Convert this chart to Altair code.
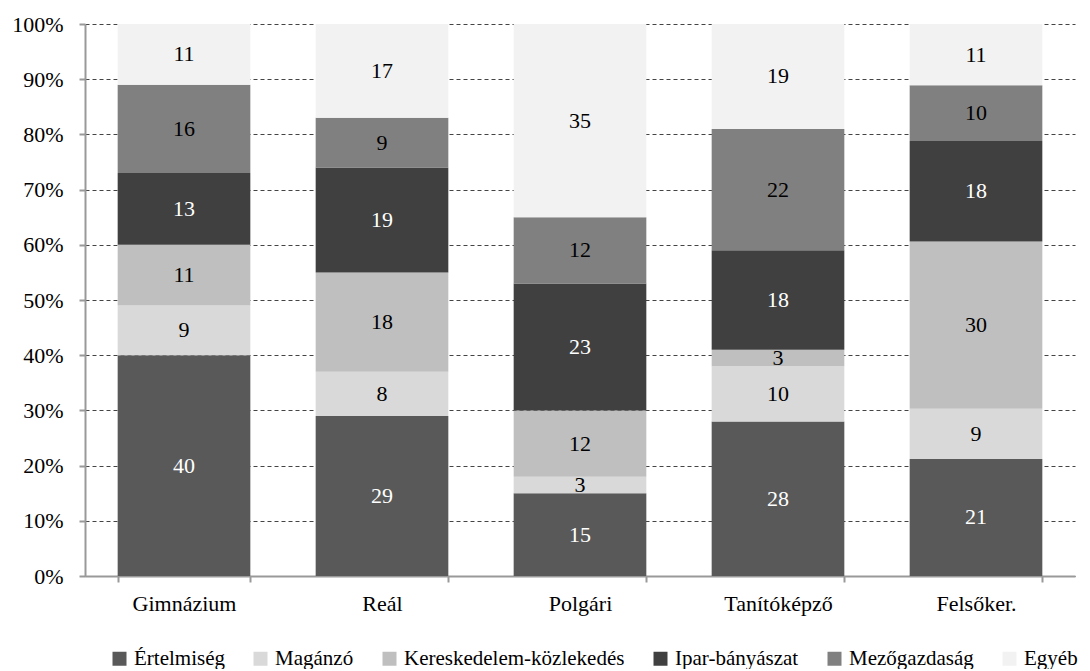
import altair as alt
import pandas as pd

categories = ["Gimnázium", "Reál", "Polgári", "Tanítóképző", "Felsőker."]
series = ["Értelmiség", "Magánzó", "Kereskedelem-közlekedés", "Ipar-bányászat", "Mezőgazdaság", "Egyéb"]
colors = ["#595959", "#d9d9d9", "#bfbfbf", "#404040", "#808080", "#f2f2f2"]

ertelmiseg = [40, 29, 15, 28, 21]
maganzo = [9, 8, 3, 10, 9]
kereskedelem = [11, 18, 12, 3, 30]
ipar = [13, 19, 23, 18, 18]
mezogazdasag = [16, 9, 12, 22, 10]
egyeb = [11, 17, 35, 19, 11]

series_values = [ertelmiseg, maganzo, kereskedelem, ipar, mezogazdasag, egyeb]

rows = []
for si, (s, vals) in enumerate(zip(series, series_values)):
    for c, v in zip(categories, vals):
        rows.append({"cat": c, "series": s, "value": v, "order": si})
df = pd.DataFrame(rows)

FONT = "Liberation Serif"

base = alt.Chart(df).transform_stack(
    stack="value",
    groupby=["cat"],
    sort=[alt.SortField("order", order="ascending")],
    as_=["y0", "y1"],
    offset="normalize",
).transform_calculate(mid="(datum.y0 + datum.y1) / 2")

xenc = alt.X(
    "cat:N",
    sort=categories,
    title=None,
    scale=alt.Scale(paddingInner=0.33, paddingOuter=0.165),
    axis=alt.Axis(
        labelAngle=0,
        labelFont=FONT,
        labelFontSize=22,
        labelColor="#000000",
        labelPadding=11,
        tickBand="extent",
        ticks=True,
        tickSize=6,
        tickColor="#999999",
        tickWidth=2,
        domainColor="#999999",
        domainWidth=2,
        grid=False,
    ),
)

bars = base.mark_bar().encode(
    x=xenc,
    y=alt.Y(
        "y0:Q",
        title=None,
        scale=alt.Scale(domain=[0, 1]),
        axis=alt.Axis(
            values=[i / 10 for i in range(11)],
            format=".0%",
            labelFont=FONT,
            labelFontSize=22,
            labelColor="#000000",
            labelPadding=16,
            tickSize=6,
            tickColor="#999999",
            tickWidth=2,
            domainColor="#999999",
            domainWidth=2,
            grid=True,
            gridColor="#444444",
            gridDash=[4, 3],
            gridWidth=1,
            minExtent=77,
        ),
    ),
    y2="y1:Q",
    color=alt.Color(
        "series:N",
        scale=alt.Scale(domain=series, range=colors),
        legend=alt.Legend(
            title=None,
            orient="none",
            legendX=24,
            legendY=624,
            direction="horizontal",
            columns=6,
            symbolType="square",
            symbolSize=196,
            symbolStrokeWidth=0,
            labelFont=FONT,
            labelFontSize=21,
            labelColor="#000000",
            labelOffset=4,
            labelLimit=400,
            columnPadding=25,
        ),
    ),
)

labels = base.mark_text(font=FONT, fontSize=22, baseline="middle").encode(
    x=alt.X("cat:N", sort=categories),
    y=alt.Y("mid:Q"),
    text=alt.Text("value:Q", format=".0f"),
    color=alt.condition(
        alt.FieldOneOfPredicate(field="series", oneOf=["Értelmiség", "Ipar-bányászat"]),
        alt.value("#ffffff"),
        alt.value("#000000"),
    ),
)

chart = (
    alt.layer(bars, labels)
    .properties(width=990, height=552, padding={"left": 0, "top": 5, "right": 0, "bottom": 0})
    .configure_view(strokeWidth=0)
)

chart.save("out.html", embed_options={"renderer": "svg", "actions": False})
